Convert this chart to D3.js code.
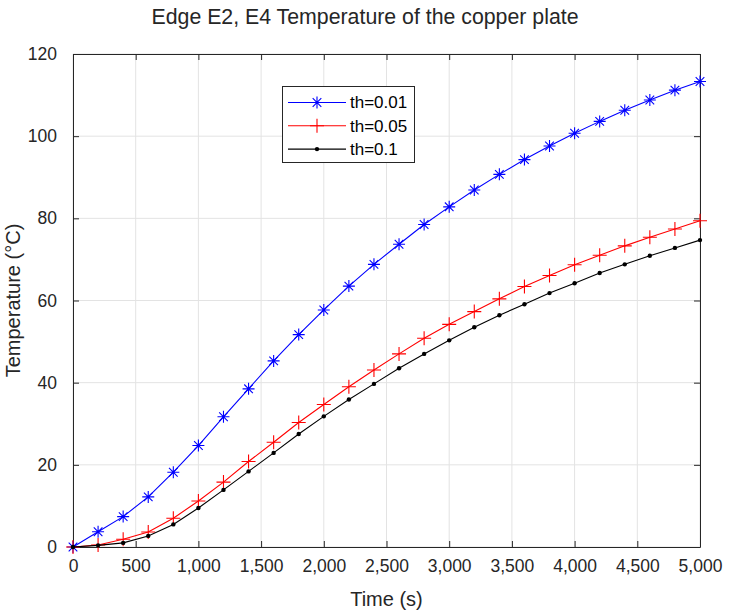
<!DOCTYPE html>
<html><head><meta charset="utf-8">
<script src="https://cdn.jsdelivr.net/npm/d3@7"></script>
<style>
body{margin:0;background:#fff;}
svg{display:block;font-family:"Liberation Sans",Arial,Helvetica,sans-serif;}
</style></head>
<body><svg id="chart" width="731" height="615"></svg>
<script>
const times = [0,200,400,600,800,1000,1200,1400,1600,1800,2000,2200,2400,2600,2800,3000,3200,3400,3600,3800,4000,4200,4400,4600,4800,5000];
const th001 = [0,3.7,7.4,12.2,18.2,24.7,31.7,38.5,45.3,51.7,57.7,63.5,68.8,73.7,78.5,82.8,86.9,90.7,94.3,97.6,100.7,103.6,106.3,108.8,111.2,113.3];
const th005 = [0,0.5,1.9,3.65,7.0,11.2,15.8,20.8,25.5,30.3,34.7,39.0,43.1,47.0,50.8,54.2,57.3,60.4,63.4,66.1,68.7,71.0,73.3,75.4,77.4,79.4];
const th01  = [0,0.4,1.0,2.7,5.5,9.5,13.9,18.4,22.9,27.5,31.8,35.9,39.7,43.5,47.0,50.3,53.5,56.4,59.1,61.8,64.2,66.7,68.8,70.9,72.8,74.7];
const seriesNames = ["th=0.01","th=0.05","th=0.1"];
const seriesColors = ["#0000ff","#ff0000","#000000"];
const seriesMarkers = ["star","plus","dot"];
const xTicks = [0,500,1000,1500,2000,2500,3000,3500,4000,4500,5000];
const yTicks = [0,20,40,60,80,100,120];
const titleText = "Edge E2, E4 Temperature of the copper plate";
const xLabel = "Time (s)";
const yLabel = "Temperature (°C)";

const series = [th001, th005, th01];
const svg = d3.select("#chart");
const L=73, R=700, T=54, B=547;
const x = d3.scaleLinear().domain([0,5000]).range([L,R]);
const y = d3.scaleLinear().domain([0,120]).range([B,T]);
const axisColor = "#262626";

// grid
const g = svg.append("g");
g.selectAll("line.gx").data(xTicks).join("line")
  .attr("x1",d=>x(d)).attr("x2",d=>x(d)).attr("y1",T).attr("y2",B)
  .attr("stroke","#e3e3e3").attr("stroke-width",1);
g.selectAll("line.gy").data(yTicks).join("line")
  .attr("x1",L).attr("x2",R).attr("y1",d=>y(d)).attr("y2",d=>y(d))
  .attr("stroke","#e3e3e3").attr("stroke-width",1);

// axes
const fmt = d3.format(",");
const xAxis = svg.append("g").attr("transform",`translate(0,${B})`)
  .call(d3.axisBottom(x).tickValues(xTicks).tickFormat(fmt).tickSizeInner(-6).tickSizeOuter(0).tickPadding(13));
const xAxisTop = svg.append("g").attr("transform",`translate(0,${T})`)
  .call(d3.axisTop(x).tickValues(xTicks).tickFormat("").tickSizeInner(-6).tickSizeOuter(0));
const yAxis = svg.append("g").attr("transform",`translate(${L},0)`)
  .call(d3.axisLeft(y).tickValues(yTicks).tickSizeInner(-6).tickSizeOuter(0).tickPadding(16));
const yAxisR = svg.append("g").attr("transform",`translate(${R},0)`)
  .call(d3.axisRight(y).tickValues(yTicks).tickFormat("").tickSizeInner(-6).tickSizeOuter(0));
[xAxis,xAxisTop,yAxis,yAxisR].forEach(a=>{
  a.select(".domain").attr("stroke",axisColor).attr("stroke-width",1);
  a.selectAll(".tick line").attr("stroke",axisColor);
  a.selectAll("text").attr("fill",axisColor).style("font-size","17.5px").style("font-family","'Liberation Sans',Arial,sans-serif");
});

// lines & markers
const line = d3.line().x((d,i)=>x(times[i])).y(d=>y(d));
function drawMarker(sel, type, color){
  if(type==="star"){
    const s=6;
    sel.append("path").attr("d",`M${-s},0H${s}M0,${-s}V${s}M${-s*0.72},${-s*0.72}L${s*0.72},${s*0.72}M${-s*0.72},${s*0.72}L${s*0.72},${-s*0.72}`)
      .attr("stroke",color).attr("stroke-width",1.1).attr("fill","none");
  } else if(type==="plus"){
    const s=7;
    sel.append("path").attr("d",`M${-s},0H${s}M0,${-s}V${s}`)
      .attr("stroke",color).attr("stroke-width",1.1).attr("fill","none");
  } else {
    sel.append("circle").attr("r",2.2).attr("fill",color);
  }
}
series.forEach((vals,k)=>{
  svg.append("path").datum(vals).attr("d",line).attr("fill","none")
    .attr("stroke",seriesColors[k]).attr("stroke-width",1.1);
  svg.append("g").selectAll("g").data(vals).join("g")
    .attr("transform",(d,i)=>`translate(${x(times[i])},${y(d)})`)
    .each(function(){ drawMarker(d3.select(this), seriesMarkers[k], seriesColors[k]); });
});

// legend
const lg = svg.append("g");
lg.append("rect").attr("x",282.5).attr("y",86.5).attr("width",132).attr("height",76)
  .attr("fill","#fff").attr("stroke",axisColor).attr("stroke-width",1);
seriesNames.forEach((n,k)=>{
  const yy = 102.5 + k*23.3;
  lg.append("line").attr("x1",288).attr("x2",346).attr("y1",yy).attr("y2",yy)
    .attr("stroke",seriesColors[k]).attr("stroke-width",1.1);
  const m = lg.append("g").attr("transform",`translate(317,${yy})`);
  drawMarker(m, seriesMarkers[k], seriesColors[k]);
  lg.append("text").attr("x",350).attr("y",yy).attr("dy","0.35em")
    .attr("fill","#000").style("font-size","17px").text(n);
});

// title & labels
svg.append("text").attr("x",365).attr("y",24).attr("text-anchor","middle")
  .attr("fill",axisColor).style("font-size","21.3px").text(titleText);
svg.append("text").attr("x",(L+R)/2).attr("y",606).attr("text-anchor","middle")
  .attr("fill",axisColor).style("font-size","20px").text(xLabel);
svg.append("text").attr("transform",`translate(20,${(T+B)/2}) rotate(-90)`).attr("text-anchor","middle")
  .attr("fill",axisColor).style("font-size","20px").text(yLabel);
</script></body></html>
